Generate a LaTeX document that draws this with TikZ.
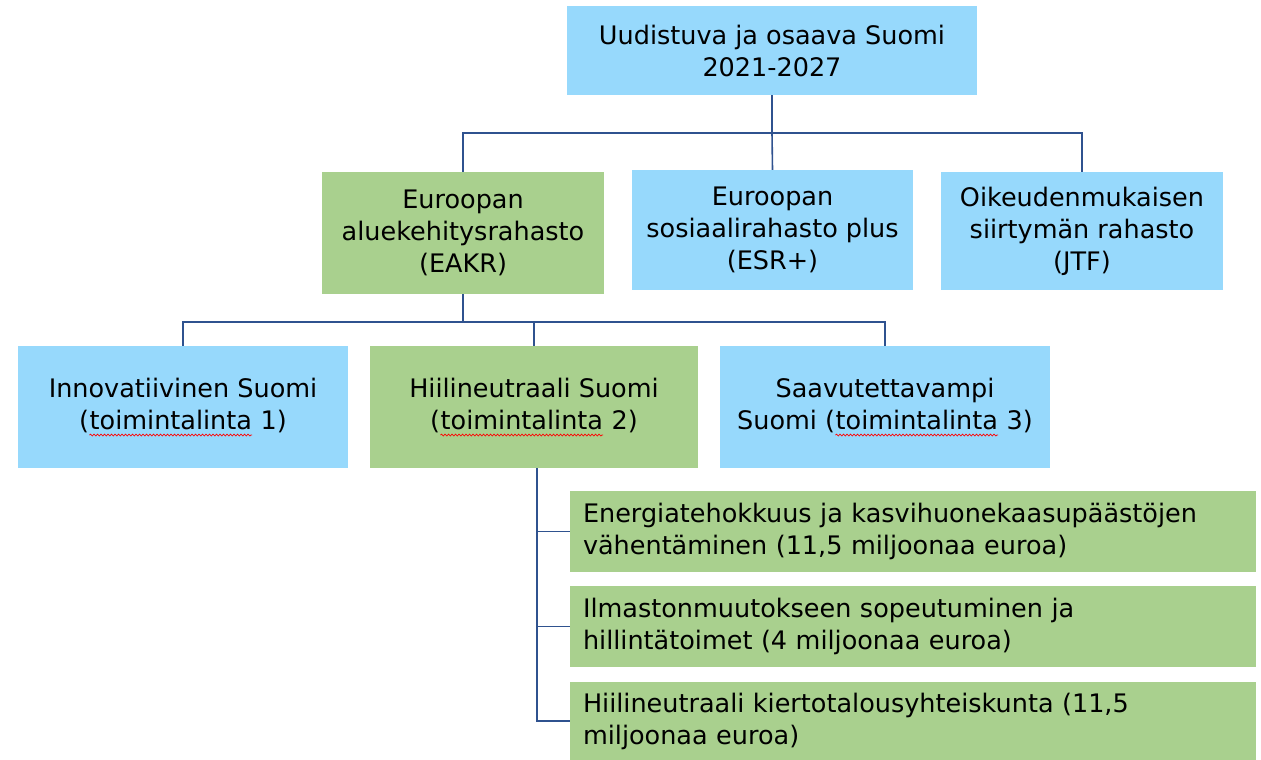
\documentclass[tikz,border=0pt]{standalone}
\usepackage{fontspec}
\setmainfont{DejaVu Sans}
\usetikzlibrary{decorations.pathmorphing}

\definecolor{boxblue}{RGB}{151,217,252}
\definecolor{boxgreen}{RGB}{169,208,142}
\definecolor{linkblue}{RGB}{47,82,143}

% word with the red spell-check wave under it
\newcommand{\spellmark}[1]{\tikz[baseline=(w.base)]{\node[inner sep=0pt, minimum width=0pt, minimum height=0pt,
    fill=none, draw=none, text width={}, align=none] (w) {#1};
  \draw[red, line width=0.7pt, decorate, decoration={snake, amplitude=0.9pt, segment length=3.5pt}]
    ([yshift=-6pt]w.base west) -- ([yshift=-6pt]w.base east);}}

\begin{document}
\begin{tikzpicture}[x=1pt, y=-1pt,
    font=\fontsize{25.5}{32}\selectfont,
    bluebox/.style={fill=boxblue, align=center, inner sep=0pt},
    greenbox/.style={fill=boxgreen, align=center, inner sep=0pt},
    subbox/.style={fill=boxgreen, align=left, text width=660pt, inner xsep=13pt, inner ysep=0pt, minimum height=81pt},
    link/.style={draw=linkblue, line width=1.6pt}]
    \useasboundingbox (0,0) rectangle (1261,760);

    % programme
    \node[bluebox, minimum width=410pt, minimum height=89pt] (suomi) at (772,50.5) {Uudistuva ja osaava Suomi\\2021-2027};

    % funds
    \node[greenbox, minimum width=282pt, minimum height=122pt] (eakr) at (463,233) {Euroopan\\aluekehitysrahasto\\(EAKR)};
    \node[bluebox, minimum width=281pt, minimum height=120pt] (esr) at (772.5,230) {Euroopan\\sosiaalirahasto plus\\(ESR+)};
    \node[bluebox, minimum width=282pt, minimum height=118pt] (jtf) at (1082,231) {Oikeudenmukaisen\\siirtymän rahasto\\(JTF)};

    % priorities
    \node[bluebox, minimum width=330pt, minimum height=122pt] (inno) at (183,407) {Innovatiivinen Suomi\\(\spellmark{toimintalinta} 1)};
    \node[greenbox, minimum width=328pt, minimum height=122pt] (hiili) at (534,407) {Hiilineutraali Suomi\\(\spellmark{toimintalinta} 2)};
    \node[bluebox, minimum width=330pt, minimum height=122pt] (saav) at (885,407) {Saavutettavampi\\Suomi (\spellmark{toimintalinta} 3)};

    % objectives
    \node[subbox] (tav1) at (913,531.5) {Energiatehokkuus ja kasvihuonekaasupäästöjen\\vähentäminen (11,5 miljoonaa euroa)};
    \node[subbox] (tav2) at (913,626.5) {Ilmastonmuutokseen sopeutuminen ja\\hillintätoimet (4 miljoonaa euroa)};
    \node[subbox, minimum height=78pt] (tav3) at (913,721) {Hiilineutraali kiertotalousyhteiskunta (11,5\\miljoonaa euroa)};

    % connectors
    \draw[link] (suomi.south) -- ++(0,38) coordinate (j1);
    \draw[link] (eakr.north) |- (j1) -| (jtf.north);
    \draw[link] (j1) -- (esr.north);

    \draw[link] (eakr.south) -- ++(0,28) coordinate (j2);
    \draw[link] (inno.north) |- (j2) -| (saav.north);
    \draw[link] (hiili.north) |- (j2);

    \coordinate (j3) at ([xshift=3pt]hiili.south);
    \draw[link] (j3) |- (tav1.west);
    \draw[link] (j3) |- (tav2.west);
    \draw[link] (j3) |- (tav3.west);
\end{tikzpicture}
\end{document}
